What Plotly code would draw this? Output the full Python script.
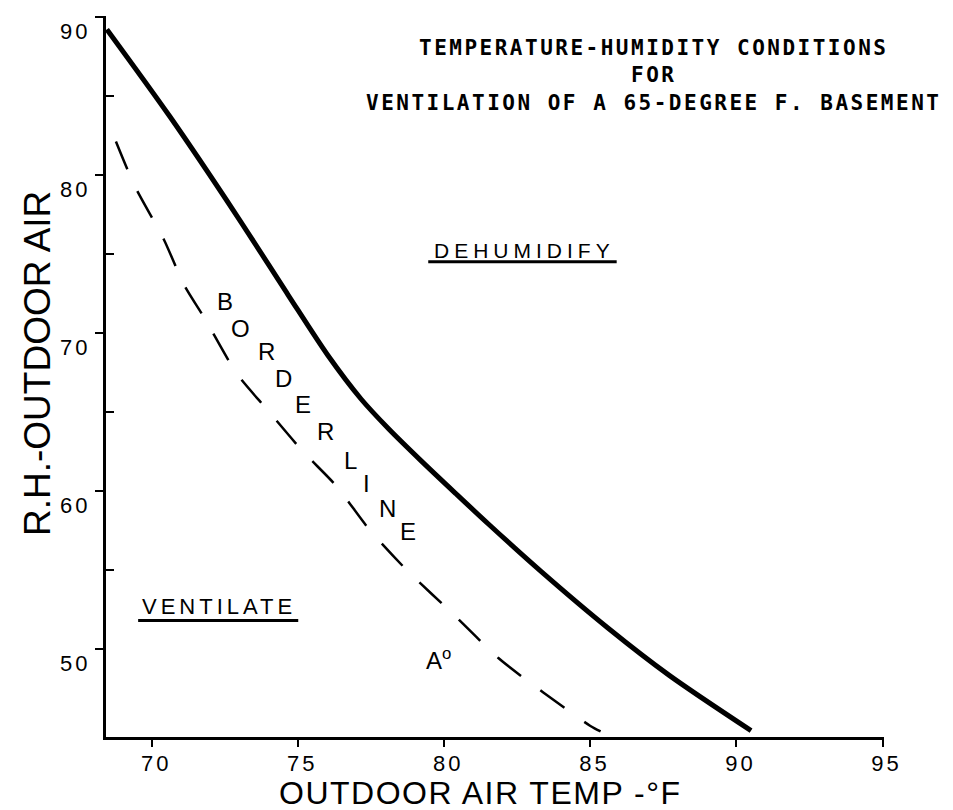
import plotly.graph_objects as go

# ---- data ----
solid_x = [68.45, 70.6, 72.9, 74.65, 76.0, 77.15, 78.1, 79.2, 80.4, 81.5, 83.3, 85.6, 87.7, 90.5]
solid_y = [89.2, 83.7, 77.4, 72.4, 68.6, 65.8, 63.9, 61.9, 59.8, 57.9, 54.9, 51.3, 48.3, 44.8]

dash_x = [68.76, 69.4, 70.4, 71.1, 71.8, 72.9, 73.95, 75.15, 76.3, 77.45, 78.75, 80.35, 81.85, 83.4, 85.0, 85.35]
dash_y = [82.1, 79.3, 75.9, 73.0, 70.9, 67.4, 65.1, 62.5, 60.3, 57.5, 54.9, 52.1, 49.4, 47.2, 45.1, 44.75]

x_ticks = [70, 75, 80, 85, 90, 95]
x_ticktext = ["70", "75", "80", "85", "90", "95"]
y_ticks = [50, 60, 70, 80, 90]
y_ticktext = ["50", "60", "70", "80", "90"]
y_minor = [55, 65, 75, 85]

border_letters = ["B", "O", "R", "D", "E", "R", "L", "I", "N", "E"]
border_x = [72.50, 73.04, 73.90, 74.48, 75.17, 75.92, 76.78, 77.32, 78.04, 78.76]
border_y = [71.96, 70.25, 68.80, 67.09, 65.44, 63.73, 61.90, 60.44, 58.86, 57.41]

title_lines = ["TEMPERATURE-HUMIDITY CONDITIONS", "FOR", "VENTILATION OF A 65-DEGREE F. BASEMENT"]


def spaced(t, px):
    return '<span style="letter-spacing:%spx">%s</span>' % (px, t)


fig = go.Figure()
fig.add_trace(go.Scatter(x=solid_x, y=solid_y, mode="lines",
                         line=dict(color="black", width=5, shape="spline", smoothing=0.8),
                         showlegend=False, hoverinfo="skip"))
fig.add_trace(go.Scatter(x=dash_x, y=dash_y, mode="lines",
                         line=dict(color="black", width=2.5, dash="30px,24px", shape="spline", smoothing=0.7),
                         showlegend=False, hoverinfo="skip"))

SANS = "Liberation Sans"
ann = []
# title block
ann.append(dict(text="<b>" + spaced("<br>".join(title_lines), 2.5) + "</b>", xref="paper", yref="paper",
                x=(645 - 98) / 778, y=1 - (68 - 8) / 721, align="center",
                xanchor="center", yanchor="middle", showarrow=False,
                font=dict(family="DejaVu Sans Mono", size=21, color="black")))
# BORDERLINE letters
for L, bx, by in zip(border_letters, border_x, border_y):
    ann.append(dict(text=L, x=bx, y=by, xref="x", yref="y", showarrow=False,
                    xanchor="center", yanchor="middle",
                    font=dict(family=SANS, size=24, color="black")))
ann.append(dict(text=spaced("DEHUMIDIFY", 5), x=82.75, y=75.2, xref="x", yref="y", showarrow=False,
                xanchor="center", yanchor="middle", font=dict(family=SANS, size=21, color="black")))
ann.append(dict(text=spaced("VENTILATE", 4), x=72.3, y=52.66, xref="x", yref="y", showarrow=False,
                xanchor="center", yanchor="middle", font=dict(family=SANS, size=22, color="black")))
ann.append(dict(text="A<sup>o</sup>", x=79.79, y=49.37, xref="x", yref="y", showarrow=False,
                xanchor="center", yanchor="middle", font=dict(family=SANS, size=24, color="black")))
# axis titles
ann.append(dict(text="R.H.-OUTDOOR AIR", xref="paper", yref="paper", x=0, xshift=-69,
                y=1 - (356 - 8) / 721, textangle=-90, showarrow=False,
                xanchor="center", yanchor="middle", font=dict(family=SANS, size=37, color="black")))
ann.append(dict(text=spaced("OUTDOOR AIR TEMP -°F", 1.5), xref="paper", yref="paper",
                x=(472 - 98) / 778, y=-(785 - 729) / 721, showarrow=False,
                xanchor="center", yanchor="middle", font=dict(family=SANS, size=32, color="black")))

shapes = [
    dict(type="line", xref="x", yref="y", x0=79.45, x1=85.9, y0=74.49, y1=74.49,
         line=dict(color="black", width=3)),
    dict(type="line", xref="x", yref="y", x0=69.52, x1=75.0, y0=51.77, y1=51.77,
         line=dict(color="black", width=3)),
]

fig.update_layout(
    width=953, height=810,
    margin=dict(l=98, r=77, t=8, b=81),
    paper_bgcolor="white", plot_bgcolor="white",
    annotations=ann, shapes=shapes, showlegend=False,
)
fig.update_xaxes(range=[68.42, 95.05], showline=True, linewidth=3, linecolor="black",
                 ticks="outside", ticklen=7, tickwidth=2, tickcolor="black",
                 tickvals=x_ticks, ticktext=[spaced(t, 3) for t in x_ticktext],
                 showgrid=False, zeroline=False, ticklabelstandoff=-2,
                 tickfont=dict(family=SANS, size=22, color="black"), ticklabelshift=4)
fig.update_yaxes(range=[44.4, 90.05], showline=True, linewidth=3, linecolor="black",
                 ticks="outside", ticklen=8, tickwidth=2, tickcolor="black",
                 tickvals=y_ticks, ticktext=[spaced(t, 3) for t in y_ticktext],
                 showgrid=False, zeroline=False,
                 minor=dict(ticks="inside", ticklen=8, tickwidth=2, tickcolor="black",
                            tickvals=y_minor, showgrid=False),
                 tickfont=dict(family=SANS, size=22, color="black"), ticklabelshift=15)

fig.write_html("out.html")
